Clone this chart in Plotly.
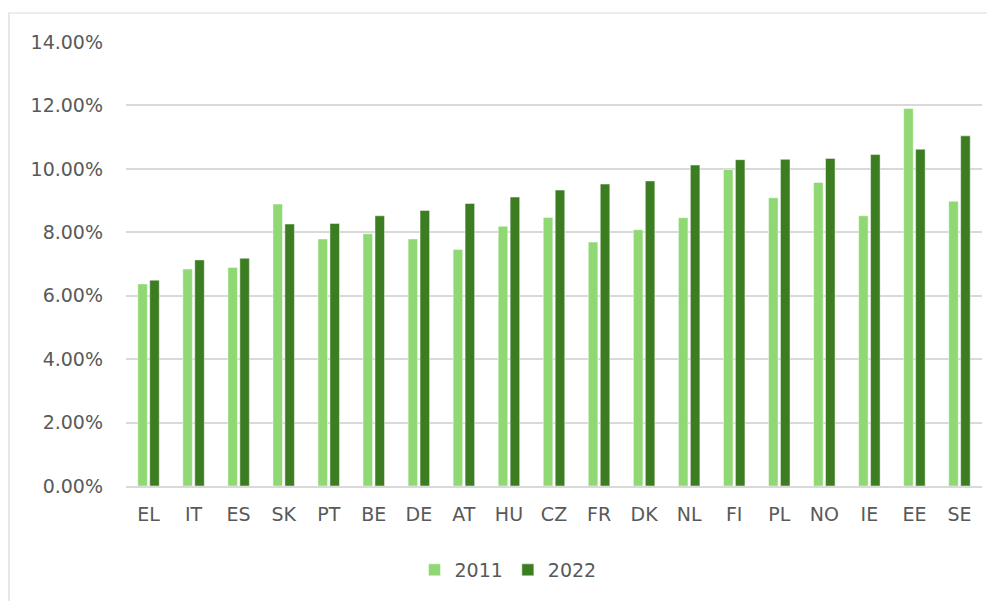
import plotly.graph_objects as go

categories = ["EL", "IT", "ES", "SK", "PT", "BE", "DE", "AT", "HU", "CZ",
              "FR", "DK", "NL", "FI", "PL", "NO", "IE", "EE", "SE"]
values_2011 = [0.0637, 0.0684, 0.0689, 0.0889, 0.0779, 0.0795, 0.0779, 0.0746, 0.0819, 0.0847,
               0.0769, 0.0808, 0.0846, 0.0998, 0.0909, 0.0957, 0.0852, 0.1190, 0.0898]
values_2022 = [0.0649, 0.0713, 0.0718, 0.0826, 0.0828, 0.0852, 0.0869, 0.0891, 0.0911, 0.0933,
               0.0952, 0.0962, 0.1012, 0.1029, 0.1030, 0.1033, 0.1045, 0.1062, 0.1104]
series_names = ["2011", "2022"]
colors = ["#8fd873", "#3c7d22"]

fig = go.Figure()
for name, vals, col in zip(series_names, [values_2011, values_2022], colors):
    fig.add_trace(go.Bar(
        x=categories, y=vals, name=name,
        marker=dict(color=col, line=dict(color="rgba(255,255,255,0.6)", width=0.8)),
    ))

font_family = "'DejaVu Sans', sans-serif"
W, H = 987, 593
ml, mr, mt, mb = 118, 13, 34, 115
pw = W - ml - mr
ph = H - mt - mb

fig.update_layout(
    width=W, height=H,
    margin=dict(l=ml, r=mr, t=mt, b=mb),
    paper_bgcolor="white", plot_bgcolor="white",
    barmode="group", bargap=0.47, bargroupgap=0.2,
    font=dict(family=font_family, size=19, color="#595959"),
    showlegend=True,
    legend=dict(orientation="h", x=(500 - ml) / pw, xanchor="center",
                y=-(562 - (mt + ph)) / ph, yanchor="middle",
                font=dict(size=19, color="#595959"), itemwidth=30, traceorder="normal"),
    xaxis=dict(showgrid=False, showline=True, linecolor="#d9d9d9", linewidth=1.5,
               ticks="", ticklabelstandoff=10, tickfont=dict(size=19, color="#595959")),
    yaxis=dict(range=[0, 0.14], dtick=0.02, tickformat=".2%", showgrid=True,
               gridcolor="#d9d9d9", gridwidth=1.5, zeroline=False, showline=False,
               ticks="", ticklabelstandoff=22, tickfont=dict(size=19, color="#595959")),
    shapes=[dict(type="rect", xref="paper", yref="paper",
                 x0=(1 - ml) / pw, x1=(1005 - ml) / pw,
                 y0=-(615 - (mt + ph)) / ph, y1=1 + (mt - 5) / ph,
                 line=dict(color="#d9d9d9", width=1.2), fillcolor="rgba(0,0,0,0)", layer="below")],
)

fig.write_html("out.html")
